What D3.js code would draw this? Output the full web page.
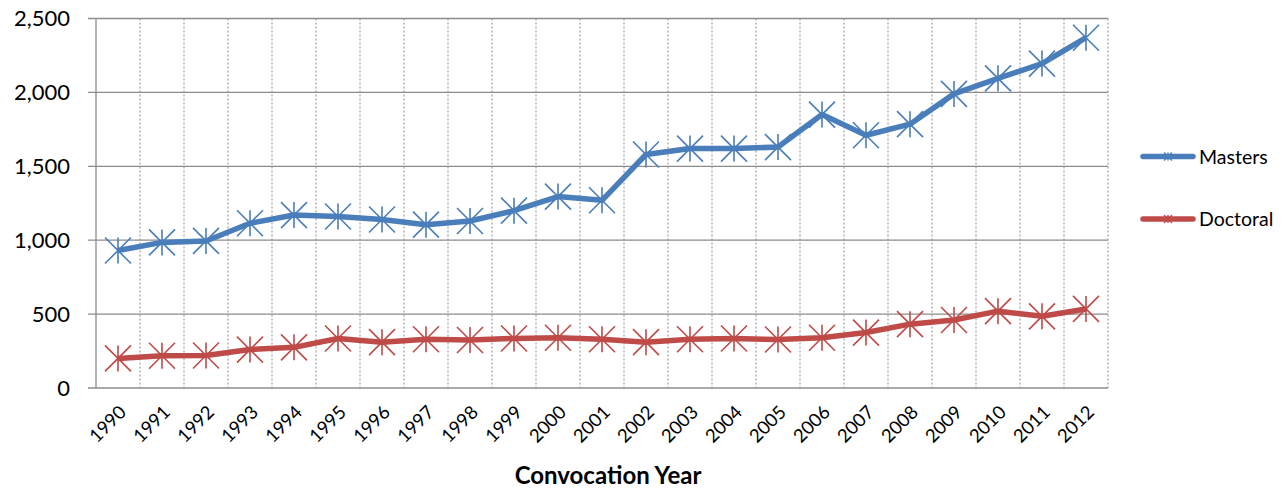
<!DOCTYPE html>
<html>
<head>
<meta charset="utf-8">
<script src="https://cdn.jsdelivr.net/npm/d3@7"></script>
<style>
  html, body { margin: 0; padding: 0; background: #fff; }
  svg { display: block; font-family: Lato, "Open Sans", sans-serif; }
</style>
</head>
<body>
<svg id="chart" width="1283" height="489"></svg>
<script>
const years = ["1990","1991","1992","1993","1994","1995","1996","1997","1998","1999","2000","2001","2002","2003","2004","2005","2006","2007","2008","2009","2010","2011","2012"];
const masters = [930,985,995,1115,1170,1160,1140,1105,1130,1200,1295,1270,1580,1620,1620,1630,1850,1710,1785,1990,2095,2195,2370];
const doctoral = [200,218,220,260,275,335,310,330,325,335,340,330,310,330,335,328,340,375,432,460,520,485,535];
const yTicks = [0,500,1000,1500,2000,2500];
const seriesNames = ["Masters","Doctoral"];
const seriesColors = ["#4A7EBB","#BE4B48"];
const xTitle = "Convocation Year";

const svg = d3.select("#chart");
const m = {left: 96, right: 1108, top: 18.5, bottom: 388};

const x = d3.scaleBand().domain(years).range([m.left, m.right]);
const y = d3.scaleLinear().domain([0, 2500]).range([m.bottom, m.top]);

// vertical dotted gridlines (category boundaries)
const bounds = years.map(d => x(d)).concat([m.right]).slice(1);
svg.append("g").selectAll("line").data(bounds).join("line")
  .attr("x1", d => d).attr("x2", d => d)
  .attr("y1", m.top).attr("y2", m.bottom)
  .attr("stroke", "#8c8c8c").attr("stroke-width", 1)
  .attr("stroke-dasharray", "2,2");

// horizontal gridlines with outward ticks
svg.append("g").selectAll("line").data(yTicks).join("line")
  .attr("x1", m.left - 8).attr("x2", m.right)
  .attr("y1", d => y(d)).attr("y2", d => y(d))
  .attr("stroke", "#8c8c8c").attr("stroke-width", 1.3);

// y axis line
svg.append("line").attr("x1", m.left).attr("x2", m.left)
  .attr("y1", m.top).attr("y2", m.bottom)
  .attr("stroke", "#8c8c8c").attr("stroke-width", 1.3);

// y tick labels
svg.append("g").selectAll("text").data(yTicks).join("text")
  .attr("x", 70).attr("y", d => y(d)).attr("dy", "0.36em")
  .attr("text-anchor", "end").attr("font-size", 22).attr("fill", "#000")
  .text(d3.format(","));

// x tick labels
svg.append("g").selectAll("text").data(years).join("text")
  .attr("transform", d => `translate(${x(d) + x.bandwidth()/2 + 0},${m.bottom + 16}) rotate(-45)`)
  .attr("text-anchor", "end").attr("dy", "0.71em").attr("font-size", 18.5).attr("fill", "#000")
  .text(d => d);

// x title
svg.append("text").attr("x", (m.left + m.right)/2 + 6).attr("y", 484)
  .attr("text-anchor", "middle").attr("font-size", 24).attr("font-weight", "bold")
  .text(xTitle);

const cx = d => x(d) + x.bandwidth()/2;
const line = d3.line().x((v, i) => cx(years[i])).y(v => y(v));

function star(g, px, py, r, color, sw) {
  const a = r;
  g.append("path")
    .attr("d", `M${px-a},${py-a}L${px+a},${py+a}M${px-a},${py+a}L${px+a},${py-a}M${px},${py-r}L${px},${py+r}`)
    .attr("stroke", color).attr("stroke-width", sw).attr("fill", "none");
}

[masters, doctoral].forEach((vals, si) => {
  const g = svg.append("g");
  g.append("path").datum(vals).attr("d", line)
    .attr("fill", "none").attr("stroke", seriesColors[si])
    .attr("stroke-width", 5.5).attr("stroke-linejoin", "round");
  vals.forEach((v, i) => star(g, cx(years[i]), y(v), 13, seriesColors[si], 1.6));
});

// legend
const legY = [156.5, 219];
seriesNames.forEach((name, i) => {
  const g = svg.append("g");
  g.append("line").attr("x1", 1143).attr("x2", 1193)
    .attr("y1", legY[i]).attr("y2", legY[i])
    .attr("stroke", seriesColors[i]).attr("stroke-width", 5.5).attr("stroke-linecap", "round");
  star(g, 1168, legY[i], 4, seriesColors[i], 1.3);
  g.append("text").attr("x", 1199).attr("y", legY[i]).attr("dy", "0.36em")
    .attr("font-size", 19.5).attr("fill", "#000").text(name);
});
</script>
</body>
</html>
